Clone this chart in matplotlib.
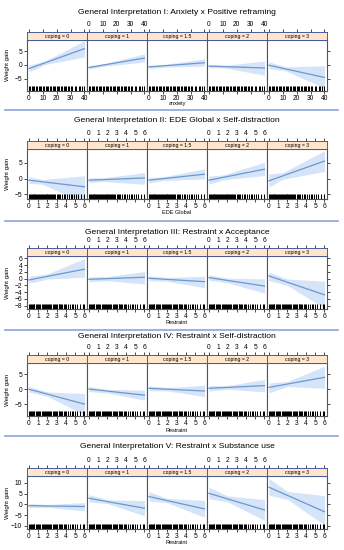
import matplotlib
matplotlib.use("Agg")
import matplotlib.pyplot as plt
from matplotlib.lines import Line2D
from matplotlib.transforms import blended_transform_factory

plt.rcParams['font.family'] = ['Liberation Sans', 'DejaVu Sans']

# ---- data ----
titles = [
    "General Interpretation I: Anxiety x Positive reframing",
    "General Interpretation II: EDE Global x Self-distraction",
    "General Interpretation III: Restraint x Acceptance",
    "General Interpretation IV: Restraint x Self-distraction",
    "General Interpretation V: Restraint x Substance use",
]
xlabels = ["anxiety", "EDE Global", "Restraint", "Restraint", "Restraint"]
coping = ["0", "1", "1.5", "2", "3"]
x_max = [40, 6, 6, 6, 6]
x_narrow = [12, 1.5, 2, 2, 2]
x_ticks = [
    [0, 10, 20, 30, 40],
    [0, 1, 2, 3, 4, 5, 6],
    [0, 1, 2, 3, 4, 5, 6],
    [0, 1, 2, 3, 4, 5, 6],
    [0, 1, 2, 3, 4, 5, 6],
]
y_lims = [(-9.4, 9.2), (-6.5, 9.6), (-9.0, 6.7), (-9.0, 8.8), (-11.4, 13.1)]
y_ticks = [
    [-5, 0, 5],
    [-5, 0, 5],
    [-8, -6, -4, -2, 0, 2, 4, 6],
    [-5, 0, 5],
    [-10, -5, 0, 5, 10],
]

# fitted line at x = 0 and x = max, one value per coping level
fit_start = [
    [-1.3, -0.9, -0.7, -0.4, -0.1],
    [-0.5, -0.5, -0.5, -0.5, -0.7],
    [-0.4, -0.2, 0.1, 0.3, 0.8],
    [0.0, 0.05, 0.3, 0.3, 0.6],
    [-0.6, 2.8, 3.6, 5.1, 7.9],
]
fit_end = [
    [5.9, 2.5, 0.8, -1.1, -4.5],
    [-2.6, 0.2, 1.4, 3.0, 5.6],
    [2.8, 0.4, -0.9, -2.2, -4.8],
    [-5.0, -2.0, -0.6, 1.2, 4.0],
    [-1.0, -1.8, -2.1, -2.6, -3.4],
]
# confidence band at x = 0, narrowest x, max
band_lo = [
    [[-2.5, 0.2, 2.9], [-1.5, -0.4, 1.1], [-1.3, -0.75, -0.4], [-1.0, -1.1, -3.7], [-1.3, -2.1, -8.4]],
    [[-1.5, -1.8, -7.8], [-1.3, -0.9, -1.8], [-1.4, -0.6, -0.1], [-1.8, -0.4, 1.0], [-2.7, -0.2, 2.3]],
    [[-1.4, -0.1, 0.4], [-0.9, -0.6, -1.6], [-0.6, -0.8, -2.7], [-0.5, -1.2, -4.3], [-0.6, -2.0, -8.8]],
    [[-0.9, -2.4, -8.6], [-0.8, -1.2, -3.7], [-0.5, -0.55, -2.5], [-0.6, 0.0, -0.9], [-1.2, 0.9, 0.3]],
    [[-1.5, -1.4, -3.0], [1.1, 0.4, -5.3], [1.6, 0.7, -6.0], [2.6, 1.2, -7.4], [4.2, 2.3, -9.5]],
]
band_hi = [
    [[-0.1, 1.5, 8.8], [-0.3, 0.6, 4.0], [-0.1, 0.25, 2.2], [0.2, -0.1, 1.4], [1.1, -0.7, -0.3]],
    [[0.6, -0.3, 0.9], [0.3, 0.25, 1.9], [0.4, 0.55, 3.1], [0.8, 1.15, 5.2], [1.5, 1.9, 8.9]],
    [[0.7, 1.4, 5.9], [0.5, 0.6, 2.1], [0.8, 0.35, 0.7], [1.1, 0.15, -0.1], [1.9, -0.1, -0.8]],
    [[0.9, -0.9, -1.5], [0.9, -0.05, -0.3], [1.1, 0.55, 1.3], [1.2, 1.2, 3.3], [2.1, 2.6, 7.7]],
    [[0.3, -0.05, 0.8], [4.5, 2.1, 1.7], [5.8, 2.7, 1.8], [7.9, 3.9, 2.2], [12.0, 6.0, 4.0]],
]

anxiety_rug = [0, 1, 2, 3, 4, 5, 6, 7, 8, 9, 10, 11, 12, 13, 14, 15, 16, 17, 18, 19,
               20, 21, 22, 23, 24, 25, 26, 27, 28, 29, 30, 31, 33, 34, 36, 37, 38, 40]
ede_rug = [0.0, 0.1, 0.2, 0.3, 0.4, 0.5, 0.6, 0.7, 0.8, 0.9, 1.0, 1.1, 1.2, 1.3, 1.4,
           1.5, 1.6, 1.7, 1.8, 1.9, 2.0, 2.1, 2.2, 2.3, 2.4, 2.5, 2.6, 2.7, 2.8,
           3.0, 3.1, 3.3, 3.4, 3.6, 3.8, 3.9, 4.1, 4.3, 4.5, 4.7, 4.9, 5.1, 5.3, 5.6, 5.9]
restraint_rug = [0.0, 0.1, 0.2, 0.3, 0.4, 0.5, 0.6, 0.8, 0.9, 1.0, 1.1, 1.2, 1.4, 1.5,
                 1.6, 1.7, 1.8, 2.0, 2.1, 2.2, 2.3, 2.4, 2.6, 2.7, 2.8, 2.9, 3.0, 3.2,
                 3.3, 3.4, 3.5, 3.6, 3.8, 3.9, 4.0, 4.2, 4.4, 4.6, 4.8, 5.0, 5.2, 5.5,
                 5.8, 6.0]
rugs = [anxiety_rug, ede_rug, restraint_rug, restraint_rug, restraint_rug]

# ---- layout (pixels of a 344x550 picture) ----
W, H = 344, 550
strip_top = [32, 141, 248, 355, 468]
panel_top = [39.5, 148.5, 256, 363, 476]
panel_bot = [91, 199, 309, 416, 529]
title_y = [12, 120, 232, 337, 447]
xlabel_y = [104, 212, 322, 430, 543]
sep_y = [110, 221, 330, 436]
left, pw = 26.7, 60

line_col = "#6b98cf"
band_col = "#d5e4f8"
strip_col = "#ffe5cc"
strip_edge = "#4a5c9c"
frame_col = "#555555"
tick_fs = 4.8


def box(x0, y0, x1, y1):
    return [x0 / W, 1 - y1 / H, (x1 - x0) / W, (y1 - y0) / H]


fig = plt.figure(figsize=(3.44, 5.5), dpi=100)

for r in range(5):
    xm = x_max[r]
    xlim = (-0.04 * xm, 1.04 * xm)
    for j in range(5):
        x0 = left + pw * j
        ax = fig.add_axes(box(x0, panel_top[r], x0 + pw, panel_bot[r]))
        ax.set_xlim(xlim)
        ax.set_ylim(y_lims[r])
        xs = [0, x_narrow[r], xm]
        ax.fill_between(xs, band_lo[r][j], band_hi[r][j], color=band_col, lw=0)
        ax.plot([0, xm], [fit_start[r][j], fit_end[r][j]], color=line_col, lw=0.9)
        trans = blended_transform_factory(ax.transData, ax.transAxes)
        ax.vlines(rugs[r], 0, 0.1, transform=trans, color="black", lw=0.75)
        ax.set_xticks(x_ticks[r])
        ax.set_yticks(y_ticks[r])
        ax.tick_params(direction="out", length=2, width=0.5, labelsize=tick_fs, pad=1.2,
                       top=False, bottom=True, labelbottom=(j % 2 == 0),
                       left=(j == 0), labelleft=(j == 0),
                       right=(j == 4), labelright=False)
        for s in ax.spines.values():
            s.set_color(frame_col)
            s.set_linewidth(0.8)

        sa = fig.add_axes(box(x0, strip_top[r], x0 + pw, panel_top[r]))
        sa.set_facecolor(strip_col)
        sa.set_xlim(xlim)
        sa.set_yticks([])
        sa.set_xticks(x_ticks[r])
        sa.tick_params(direction="out", length=2, width=0.5, labelsize=tick_fs, pad=1.2,
                       top=True, bottom=False, labeltop=(j % 2 == 1), labelbottom=False)
        for s in sa.spines.values():
            s.set_color(strip_edge)
            s.set_linewidth(0.7)
        sa.text(0.5, 0.45, "coping = " + coping[j], transform=sa.transAxes,
                ha="center", va="center", fontsize=3.7)

    fig.text(177 / W, 1 - title_y[r] / H, titles[r], ha="center", va="center", fontsize=6.1)
    fig.text(177 / W, 1 - xlabel_y[r] / H, xlabels[r], ha="center", va="center", fontsize=4.0)
    mid = (panel_top[r] + panel_bot[r]) / 2
    fig.text(8 / W, 1 - mid / H, "Weight gain", ha="center", va="center",
             rotation=90, fontsize=4.4)

for y in sep_y:
    fig.add_artist(Line2D([5 / W, 338 / W], [1 - y / H, 1 - y / H],
                          color="#8aa6d8", lw=1.2))

fig.savefig("out.png", dpi=100)
